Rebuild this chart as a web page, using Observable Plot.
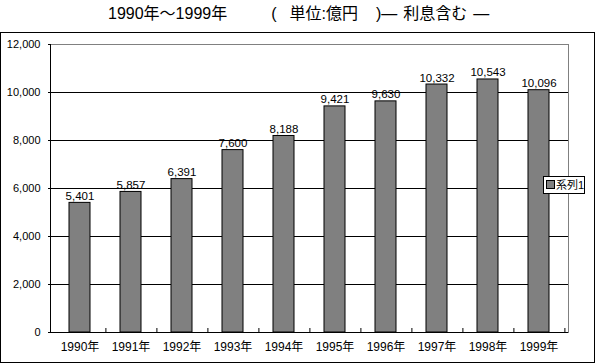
<!DOCTYPE html>
<html>
<head>
<meta charset="utf-8">
<script src="https://cdn.jsdelivr.net/npm/d3@7"></script>
<script src="https://cdn.jsdelivr.net/npm/@observablehq/plot@0.6"></script>
<style>
  html, body { margin: 0; padding: 0; background: #fff; }
  body { width: 596px; height: 364px; position: relative; overflow: hidden;
         font-family: "Liberation Sans", "Noto Sans CJK JP", sans-serif; }
  #title { position: absolute; left: 108px; top: 5px; font-size: 16px; line-height: 18px;
           white-space: pre; color: #000; }
  #title span { display: inline-block; }
  #border { position: absolute; left: 0; top: 32px; width: 595px; height: 331px;
            box-sizing: border-box; border: 1px solid #000; }
  #chart { position: absolute; left: 0; top: 33px; }
  #legend { position: absolute; left: 543px; top: 176px; width: 42px; height: 18px;
            box-sizing: border-box; border: 1px solid #000; background: #fff;
            font-size: 11px; line-height: 16px; white-space: nowrap; overflow: hidden; }
  #legend .sw { display: inline-block; width: 7px; height: 7px; background: #808080;
                border: 1px solid #000; margin: 0 1px 0 2px; vertical-align: 0px; }
</style>
</head>
<body>
<div id="title"><span>1990年～1999年</span><span style="margin-left:44px">(</span><span style="margin-left:13px">単位:億円</span><span style="margin-left:18px">)—</span><span style="margin-left:6px">利息含む</span><span style="margin-left:6px">—</span></div>
<div id="border"></div>
<div id="chart"></div>
<div id="legend"><span class="sw"></span>系列1</div>
<script>
const years = ["1990年","1991年","1992年","1993年","1994年","1995年","1996年","1997年","1998年","1999年"];
const values = [5401, 5857, 6391, 7600, 8188, 9421, 9630, 10332, 10543, 10096];
const yTicks = [0, 2000, 4000, 6000, 8000, 10000, 12000];
const gridLines = [0, 2000, 4000, 6000, 8000, 10000];

const data = years.map((y, i) => ({year: y, value: values[i]}));
const fmt = d3.format(",");

const W = 596, H = 331, mL = 50, mR = 28;
const bw = (W - mL - mR) / years.length;

const chart = Plot.plot({
  width: W,
  height: H,
  marginLeft: mL,
  marginRight: mR,
  marginTop: 11,
  marginBottom: 32,
  style: {background: "transparent", fontFamily: "'Liberation Sans', 'Noto Sans CJK JP', sans-serif", color: "#000"},
  x: {domain: years, padding: 0},
  y: {domain: [0, 12000]},
  marks: [
    Plot.frame({stroke: "#808080"}),
    Plot.ruleY(gridLines, {stroke: "#000", strokeOpacity: 1}),
    Plot.frame({anchor: "left", stroke: "#000"}),
    Plot.barY(data, {x: "year", y: "value", fill: "#808080", stroke: "#000", strokeWidth: 1, insetLeft: 15, insetRight: 15}),
    Plot.text(data, {x: "year", y: "value", text: d => fmt(d.value), lineAnchor: "bottom", dy: -3, fontSize: 11.5, fill: "#000"}),
    Plot.axisY({ticks: yTicks, tickFormat: fmt, tickSize: 2, tickPadding: 8, fontSize: 11, label: null, stroke: "#000"}),
    Plot.axisX({tickSize: 0, tickPadding: 10, fontSize: 12, label: null}),
    Plot.axisX({tickSize: -4, tickFormat: () => "", dx: bw / 2, label: null, stroke: "#000"})
  ]
});
document.getElementById("chart").appendChild(chart);
</script>
</body>
</html>
